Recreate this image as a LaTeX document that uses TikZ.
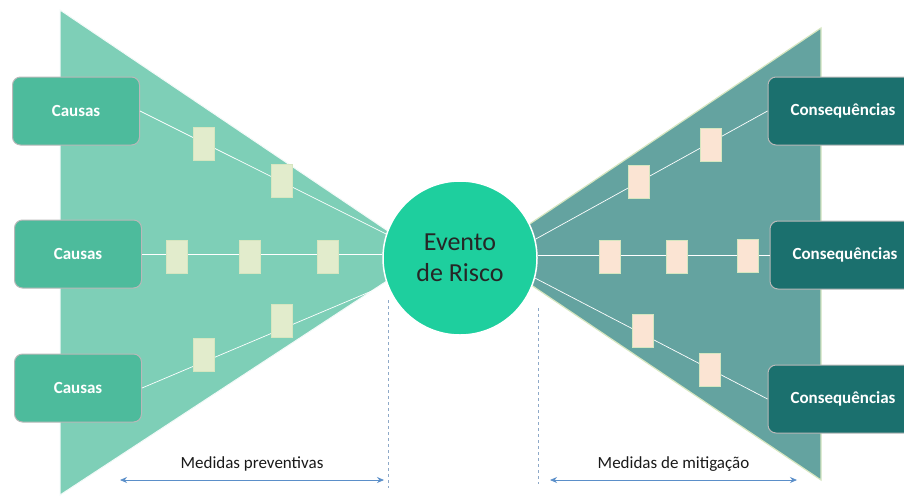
\documentclass[tikz,border=0pt]{standalone}
\usepackage{fontspec}
\setmainfont{Carlito}
\usetikzlibrary{arrows.meta,positioning}

\definecolor{fancausa}{RGB}{126,207,183}
\definecolor{fanconseq}{RGB}{100,163,160}
\definecolor{boxcausa}{RGB}{77,187,156}
\definecolor{boxconseq}{RGB}{27,112,110}
\definecolor{corevento}{RGB}{30,207,158}
\definecolor{blocoesq}{RGB}{226,236,204}
\definecolor{blocodir}{RGB}{251,228,211}
\definecolor{borda}{RGB}{214,230,192}
\definecolor{corseta}{RGB}{91,143,201}
\definecolor{corguia}{RGB}{142,169,200}

\tikzset{
    causa/.style={rectangle, rounded corners=8pt, draw=gray!55, line width=1pt, fill=boxcausa,
        minimum width=127pt, minimum height=68pt, text=white, font=\fontsize{17}{19}\selectfont\bfseries},
    conseq/.style={causa, fill=boxconseq, minimum width=150pt},
    evento/.style={circle, draw=white, line width=1.5pt, fill=corevento, minimum size=154pt,
        align=center, text=black!85, font=\fontsize{26}{31}\selectfont},
    elo/.style={white, line width=0.7pt},
    barreira/.style={rectangle, draw=borda, line width=0.8pt, fill=blocoesq,
        minimum width=21pt, minimum height=33pt, inner sep=0pt},
    mitiga/.style={barreira, fill=blocodir},
    guia/.style={draw=corguia, dashed, line width=0.6pt},
    medida/.style={draw=corseta, fill=corseta, line width=0.8pt, {Stealth[length=7pt, width=6pt]}-{Stealth[length=7pt, width=6pt]}},
    rotulo/.style={text=black!90, font=\fontsize{17}{19}\selectfont}
}

\begin{document}
\begin{tikzpicture}[x=1pt, y=-1pt]
    \useasboundingbox (0,0) rectangle (904,496);
    \clip (0,0) rectangle (904,496);

    % bow-tie halves
    \filldraw[fill=fancausa, draw=white!90!fancausa, line width=1pt] (60,10) -- (425,256) -- (60,495) -- cycle;
    \filldraw[fill=fanconseq, draw=borda, line width=1.2pt] (821,28) -- (485,254) -- (821,480) -- cycle;

    \node[causa] (ca1) at (76,111) {Causas};
    \node[causa] (ca2) at (78,254) {Causas};
    \node[causa] (ca3) at (78,388) {Causas};

    \node[conseq] (co1) at (843,111) {Consequências};
    \node[conseq] (co2) at (845,255) {Consequências};
    \node[conseq] (co3) at (843,399) {Consequências};

    \node[evento] (ev) at (460,258) {Evento\\de Risco};

    \draw[elo] (ca1.east) -- (ev.162);
    \draw[elo] (ca2.east) -- (ev.west |- ca2.east);
    \draw[elo] (ca3.east) -- (ev.200);
    \draw[elo] (ev.14) -- (co1.west);
    \draw[elo] (ev.east |- co2.west) -- (co2.west);
    \draw[elo] (ev.-15) -- (co3.west);

    % preventive barriers
    \node[barreira] (p11) at (204,144) {};
    \node[barreira] (p12) at (282,181) {};
    \node[barreira] (p21) at (177,257) {};
    \node[barreira] (p22) at (250,257) {};
    \node[barreira] (p23) at (328,257) {};
    \node[barreira] (p31) at (204,355) {};
    \node[barreira] (p32) at (282,321) {};

    % mitigation barriers
    \node[mitiga] (m11) at (639,182) {};
    \node[mitiga] (m12) at (711,145) {};
    \node[mitiga] (m21) at (610,257) {};
    \node[mitiga] (m22) at (677,257) {};
    \node[mitiga] (m23) at (748,256) {};
    \node[mitiga] (m31) at (643,331) {};
    \node[mitiga] (m32) at (710,370) {};

    \coordinate (g1a) at (388,300);
    \coordinate (g1b) at (388,488);
    \coordinate (g2a) at (538,308);
    \coordinate (g2b) at (538,484);
    \draw[guia] (g1a) -- (g1b);
    \draw[guia] (g2a) -- (g2b);

    \coordinate (pa) at (120,480);
    \coordinate (pb) at (384,480);
    \coordinate (ma) at (550,480);
    \coordinate (mb) at (797,480);
    \draw[medida] (pa) -- node[rotulo, above=5pt] (mprev) {Medidas preventivas} (pb);
    \draw[medida] (ma) -- node[rotulo, above=5pt] (mmit) {Medidas de mitigação} (mb);
\end{tikzpicture}
\end{document}
